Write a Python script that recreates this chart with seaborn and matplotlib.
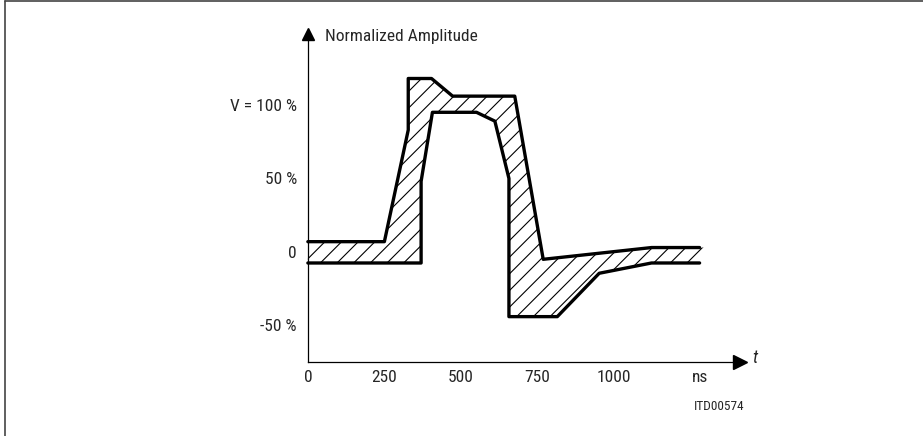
import matplotlib.pyplot as plt
import seaborn as sns

# Normalized amplitude tolerance band (t in ns, amplitude in % of V)
upper_t = [0, 250, 328, 328, 404, 473, 676, 769, 1123, 1280]
upper_v = [7, 7, 83, 118, 118, 106, 106, -5, 3, 3]
lower_t = [0, 370, 370, 407, 551, 611, 657, 657, 815, 952, 1123, 1280]
lower_v = [-7.5, -7.5, 48, 95, 95, 89, 50, -44, -44, -14.5, -7.5, -7.5]
hatch_end_t = 1300   # hatching runs a little past the open right end

x_ticks = [0, 250, 500, 750, 1000, 1280]
x_labels = ['0', '250', '500', '750', '1000', 'ns']
y_ticks = [-50, 0, 50, 100]
y_labels = ['-50 %', '0', '50 %', 'V = 100 %']

sns.set_style('white')
plt.rcParams['font.family'] = ['Roboto Condensed', 'Liberation Sans Narrow', 'Liberation Sans', 'DejaVu Sans']
plt.rcParams['hatch.linewidth'] = 0.8

fig = plt.figure(figsize=(9.23, 4.36), dpi=100)
ax = fig.add_axes([0, 0, 1, 1])
ax.set_xlim(-1006, 2010)
ax.set_ylim(-125.2, 171.4)
ax.patch.set_alpha(0)

# hatched band between the two limits
poly_t = upper_t + [hatch_end_t] + lower_t[::-1]
poly_v = upper_v + [upper_v[-1]] + lower_v[::-1]
ax.fill(poly_t, poly_v, facecolor='none', edgecolor='black', hatch='//', linewidth=0)

sns.lineplot(x=upper_t, y=upper_v, sort=False, estimator=None, color='black', lw=2.4, ax=ax)
sns.lineplot(x=lower_t, y=lower_v, sort=False, estimator=None, color='black', lw=2.4, ax=ax)

# axes as arrows
for s in ['top', 'right']:
    ax.spines[s].set_visible(False)
ax.spines['left'].set_position(('data', 0))
ax.spines['left'].set_bounds(-75, 148)
ax.spines['bottom'].set_position(('data', -75))
ax.spines['bottom'].set_bounds(0, 1415)
for s in ['left', 'bottom']:
    ax.spines[s].set_color('black')
    ax.spines[s].set_linewidth(0.9)
ax.plot([1412], [-75], marker='>', ms=10, color='black', clip_on=False)
ax.plot([0], [148.6], marker='^', ms=8, color='black', clip_on=False)

ax.set_xticks(x_ticks)
ax.set_xticklabels(x_labels, fontsize=12.5)
ax.set_yticks(y_ticks)
ax.set_yticklabels(y_labels, fontsize=12.5)
ax.tick_params(axis='x', direction='in', length=8.6, width=0.8, color='#555555', pad=5.5)
ax.tick_params(axis='y', direction='in', length=6, width=0.8, color='#555555', pad=8)
ax.xaxis.get_major_ticks()[-1].tick1line.set_visible(False)
ax.xaxis.get_major_ticks()[0].tick1line.set_visible(False)

ax.text(56, 143.7, 'Normalized Amplitude', fontsize=12.5, va='baseline', ha='left')
ax.text(1452, -72, 't', fontsize=13, style='italic', va='center', ha='left')
ax.text(1427, -105, 'ITD00574', fontsize=9.5, va='center', ha='right')

# frame around the drawing
fig.add_artist(plt.Line2D([4.5 / 923, 4.5 / 923], [0, 1 - 1.5 / 436], color='#444444', lw=1.2))
fig.add_artist(plt.Line2D([4.5 / 923, 1], [1 - 1.5 / 436, 1 - 1.5 / 436], color='#444444', lw=1.2))

fig.savefig('out.png', dpi=100)
